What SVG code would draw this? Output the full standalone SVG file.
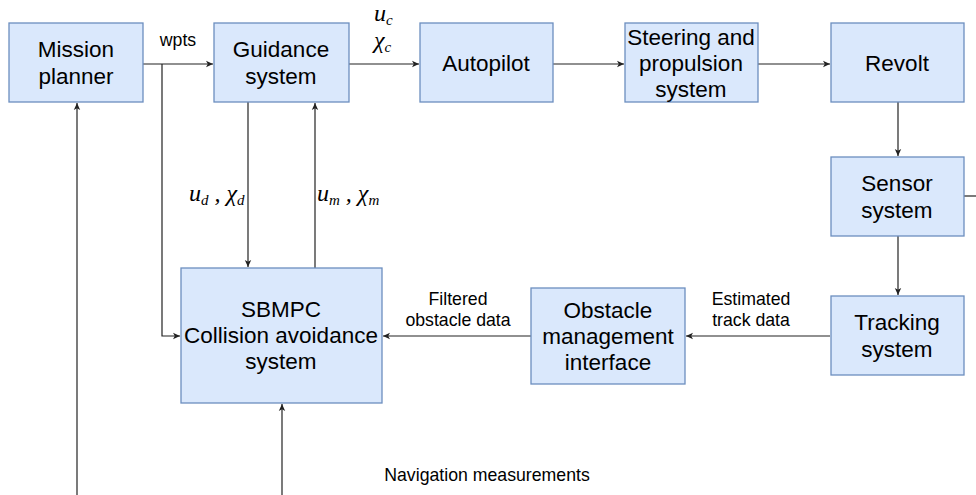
<svg xmlns="http://www.w3.org/2000/svg" width="976" height="495" viewBox="0 0 976 495">
<defs>
<marker id="ah" markerWidth="8" markerHeight="8" refX="7" refY="4" orient="auto" markerUnits="userSpaceOnUse">
<path d="M0,0.8 L7,4 L0,7.2 L1.8,4 Z" fill="#222"/>
</marker>
<style>
.box{fill:#dae8fc;stroke:#6c8ebf;stroke-width:1.3}
.nt{font-family:"Liberation Sans",Arial,sans-serif;font-size:22.5px;fill:#000;text-anchor:middle}
.lb{font-family:"Liberation Sans",Arial,sans-serif;font-size:17.7px;fill:#000;text-anchor:middle}
.mt{font-family:"Liberation Serif","Times New Roman",serif;font-style:italic;font-size:24px;fill:#000}
.sb{font-size:15px}
.cn{fill:none;stroke:#222;stroke-width:1.2}
.ar{marker-end:url(#ah)}
</style>
</defs>
<rect width="976" height="495" fill="#fff"/>
<g id="connectors">
<path class="cn ar" d="M143,64 H213"/>
<path class="cn ar" d="M162,64 V336 H180"/>
<path class="cn ar" d="M349,64 H419"/>
<path class="cn ar" d="M553,64 H624"/>
<path class="cn ar" d="M758,64 H830"/>
<path class="cn ar" d="M898,102 V156"/>
<path class="cn ar" d="M898,236 V295"/>
<path class="cn" d="M964,196 H976"/>
<path class="cn ar" d="M830,336 H686"/>
<path class="cn ar" d="M531,336 H383"/>
<path class="cn ar" d="M248,102 V267"/>
<path class="cn ar" d="M315,268 V103"/>
<path class="cn ar" d="M282,495 V404"/>
<path class="cn ar" d="M77,495 V103"/>
<text class="lb" x="178" y="46">wpts</text>
<text class="mt" x="374" y="21">u<tspan class="sb" dy="4">c</tspan></text>
<text class="mt" x="374" y="48">χ<tspan class="sb" dy="4">c</tspan></text>
<text class="mt" x="189" y="201">u<tspan class="sb" dy="4">d</tspan><tspan dy="-4"> , χ</tspan><tspan class="sb" dy="4">d</tspan></text>
<text class="mt" x="317" y="201">u<tspan class="sb" dy="4">m</tspan><tspan dy="-4"> , χ</tspan><tspan class="sb" dy="4">m</tspan></text>
<text class="lb" x="458" y="305">Filtered</text>
<text class="lb" x="458" y="326">obstacle data</text>
<text class="lb" x="751" y="305">Estimated</text>
<text class="lb" x="751" y="326">track data</text>
<text class="lb" x="487" y="481">Navigation measurements</text>
</g>
<g id="mission">
<rect class="box" x="9" y="23" width="134" height="79"/>
<text class="nt" x="76" y="57">Mission</text>
<text class="nt" x="76" y="84">planner</text>
</g>
<g id="guidance">
<rect class="box" x="214" y="23" width="135" height="79"/>
<text class="nt" x="281" y="57">Guidance</text>
<text class="nt" x="281" y="84">system</text>
</g>
<g id="autopilot">
<rect class="box" x="420" y="23" width="133" height="79"/>
<text class="nt" x="486" y="71">Autopilot</text>
</g>
<g id="steering">
<rect class="box" x="625" y="23" width="133" height="79"/>
<text class="nt" x="691" y="45">Steering and</text>
<text class="nt" x="691" y="71">propulsion</text>
<text class="nt" x="691" y="97">system</text>
</g>
<g id="revolt">
<rect class="box" x="831" y="23" width="133" height="79"/>
<text class="nt" x="897" y="71">Revolt</text>
</g>
<g id="sensor">
<rect class="box" x="831" y="157" width="133" height="79"/>
<text class="nt" x="897" y="191">Sensor</text>
<text class="nt" x="897" y="218">system</text>
</g>
<g id="tracking">
<rect class="box" x="831" y="296" width="133" height="79"/>
<text class="nt" x="897" y="330">Tracking</text>
<text class="nt" x="897" y="357">system</text>
</g>
<g id="obstacle">
<rect class="box" x="531" y="288" width="154" height="96"/>
<text class="nt" x="608" y="318">Obstacle</text>
<text class="nt" x="608" y="344">management</text>
<text class="nt" x="608" y="370">interface</text>
</g>
<g id="sbmpc">
<rect class="box" x="181" y="268" width="201" height="135"/>
<text class="nt" x="281" y="317">SBMPC</text>
<text class="nt" x="281" y="343">Collision avoidance</text>
<text class="nt" x="281" y="369">system</text>
</g>
</svg>
